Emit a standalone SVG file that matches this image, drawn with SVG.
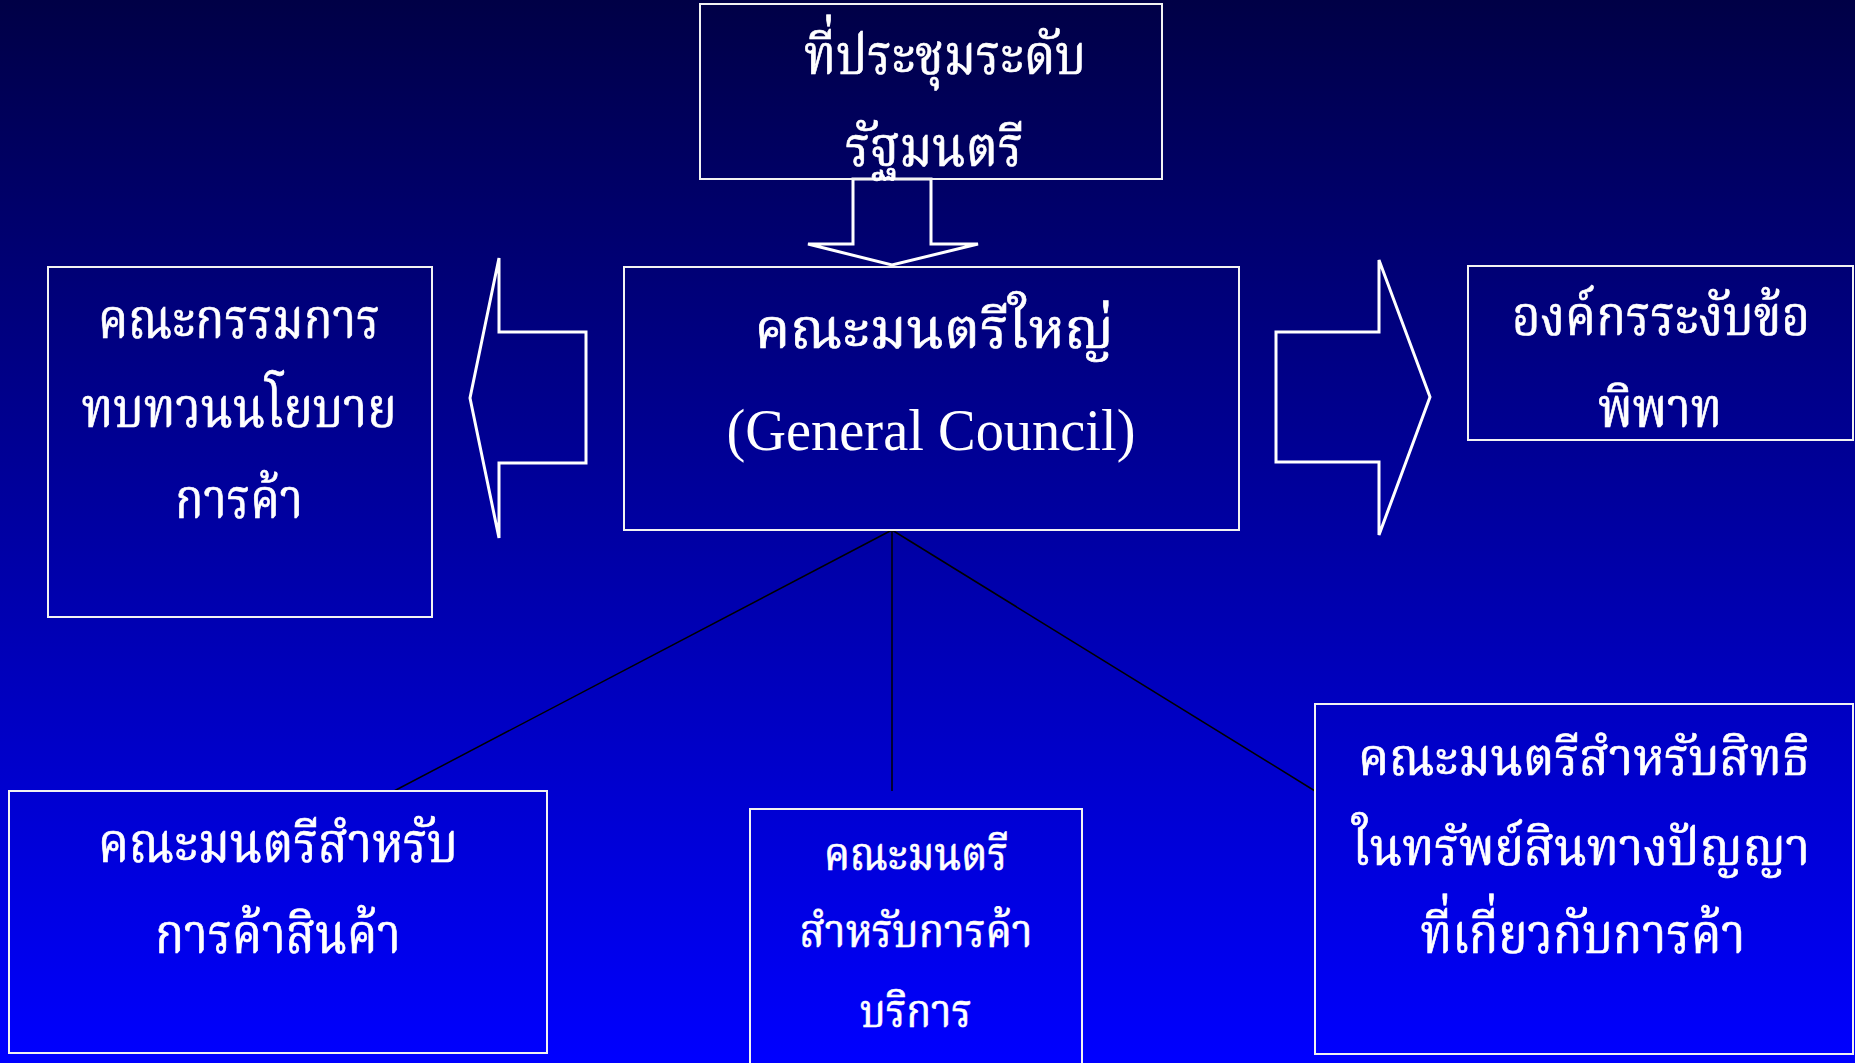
<svg xmlns="http://www.w3.org/2000/svg" width="1855" height="1063" viewBox="0 0 1855 1063">
<defs>
<linearGradient id="bg" x1="0" y1="0" x2="0" y2="1">
<stop offset="0" stop-color="#000046"/>
<stop offset="1" stop-color="#0000FF"/>
</linearGradient>
<style>
.box{fill:none;stroke:#f2f2f2;stroke-width:2}
.arrow{fill:none;stroke:#ffffff;stroke-width:3;stroke-linejoin:miter}
.conn{stroke:#000000;stroke-width:1.5;fill:none}
.t{fill:#ffffff;stroke:#ffffff;stroke-width:0.7;font-family:"Liberation Serif","Noto Serif Thai","Noto Sans Thai","DejaVu Sans",serif;font-size:56px;text-anchor:middle}
.s{font-size:46px}
.m{font-size:52px}
.lat{font-family:"Liberation Serif",serif;font-size:60px;stroke-width:0}
</style>
</defs>
<rect x="0" y="0" width="1855" height="1063" fill="url(#bg)"/>
<g id="connectors">
<line class="conn" x1="892" y1="530" x2="394" y2="791"/>
<line class="conn" x1="892" y1="530" x2="892" y2="791"/>
<line class="conn" x1="892" y1="530" x2="1315" y2="791"/>
<polygon id="arrow-down" class="arrow" points="853,179 931,179 931,244 978,244 892,265 808,244 853,244"/>
<polygon id="arrow-left" class="arrow" points="586,332 499,332 499,258 470,398 499,538 499,463 586,463"/>
<polygon id="arrow-right" class="arrow" points="1276,332 1379,332 1379,260 1430,397 1379,535 1379,462 1276,462"/>
</g>
<g id="node-ministerial">
<rect class="box" x="700" y="4" width="462" height="175"/>
<text class="t" x="945" y="74" textLength="282" lengthAdjust="spacingAndGlyphs">ที่ประชุมระดับ</text>
<text class="t" x="934" y="166" textLength="178" lengthAdjust="spacingAndGlyphs">รัฐมนตรี</text>
</g>
<g id="node-general-council">
<rect class="box" x="624" y="267" width="615" height="263"/>
<text class="t" x="934" y="348" textLength="359" lengthAdjust="spacingAndGlyphs">คณะมนตรีใหญ่</text>
<text class="t lat" x="931" y="450" textLength="409" lengthAdjust="spacingAndGlyphs">(General Council)</text>
</g>
<g id="node-tprb">
<rect class="box" x="48" y="267" width="384" height="350"/>
<text class="t" x="239" y="338" textLength="282" lengthAdjust="spacingAndGlyphs">คณะกรรมการ</text>
<text class="t" x="239" y="427" textLength="315" lengthAdjust="spacingAndGlyphs">ทบทวนนโยบาย</text>
<text class="t" x="239" y="518" textLength="128" lengthAdjust="spacingAndGlyphs">การค้า</text>
</g>
<g id="node-dsb">
<rect class="box" x="1468" y="266" width="385" height="174"/>
<text class="t" x="1661" y="335" textLength="298" lengthAdjust="spacingAndGlyphs">องค์กรระงับข้อ</text>
<text class="t" x="1660" y="427" textLength="124" lengthAdjust="spacingAndGlyphs">พิพาท</text>
</g>
<g id="node-goods">
<rect class="box" x="9" y="791" width="538" height="262"/>
<text class="t" x="278" y="862" textLength="360" lengthAdjust="spacingAndGlyphs">คณะมนตรีสำหรับ</text>
<text class="t" x="278" y="953" textLength="246" lengthAdjust="spacingAndGlyphs">การค้าสินค้า</text>
</g>
<g id="node-services">
<rect class="box" x="750" y="809" width="332" height="270"/>
<text class="t s" x="916" y="870" textLength="184" lengthAdjust="spacingAndGlyphs">คณะมนตรี</text>
<text class="t s" x="916" y="947" textLength="233" lengthAdjust="spacingAndGlyphs">สำหรับการค้า</text>
<text class="t s" x="916" y="1027" textLength="112" lengthAdjust="spacingAndGlyphs">บริการ</text>
</g>
<g id="node-trips">
<rect class="box" x="1315" y="704" width="538" height="350"/>
<text class="t m" x="1584" y="775" textLength="452" lengthAdjust="spacingAndGlyphs">คณะมนตรีสำหรับสิทธิ</text>
<text class="t m" x="1581" y="865" textLength="458" lengthAdjust="spacingAndGlyphs">ในทรัพย์สินทางปัญญา</text>
<text class="t" x="1583" y="953" textLength="325" lengthAdjust="spacingAndGlyphs">ที่เกี่ยวกับการค้า</text>
</g>
</svg>
